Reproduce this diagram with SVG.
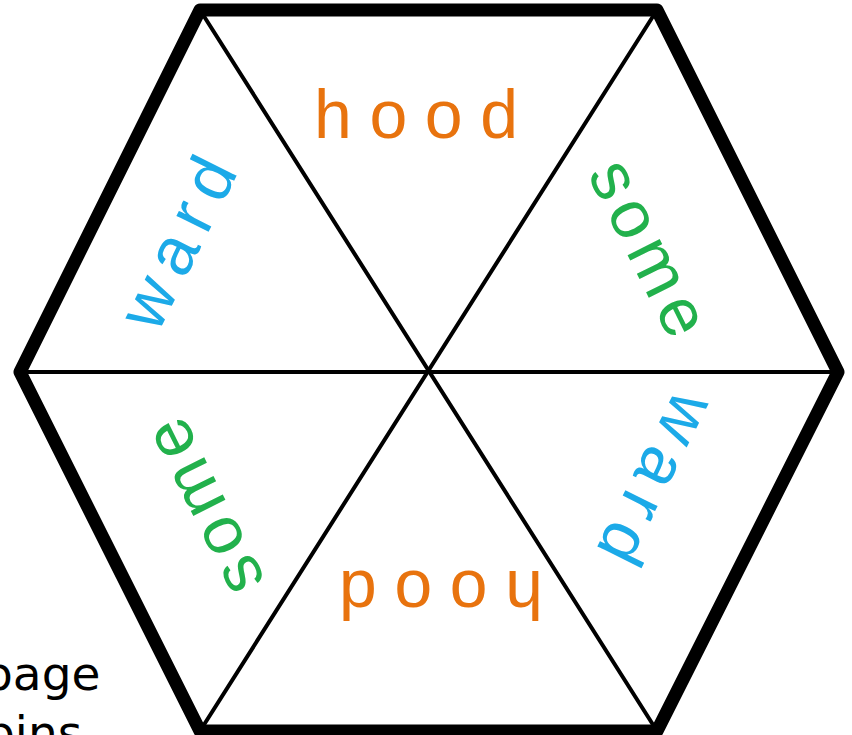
<svg xmlns="http://www.w3.org/2000/svg" width="852" height="735" viewBox="0 0 852 735">
<style>
.thin{stroke:#000;stroke-width:4;fill:none;stroke-linecap:round}
.thick{stroke:#000;stroke-width:13;fill:none;stroke-linejoin:round}
.hw{font-family:"Liberation Sans","DejaVu Sans",sans-serif;font-size:68px;text-anchor:middle}
.or{fill:#E8730E}
.bl{fill:#1CAAE8}
.gr{fill:#22B14C}
.side{font-family:"DejaVu Sans","Liberation Sans",sans-serif;font-size:47px;fill:#000}
</style>
<rect width="852" height="735" fill="#fff"/>
<g id="connectors">
<line class="thin" x1="20" y1="372" x2="838" y2="372"/>
<line class="thin" x1="200" y1="10" x2="657" y2="731"/>
<line class="thin" x1="657" y1="10" x2="200" y2="731"/>
<polygon class="thick" points="200,10 657,10 838,372 657,731 200,731 20,372"/>
</g>
<g id="top">
<text class="hw or" x="416" y="138" textLength="204" lengthAdjust="spacing">hood</text>
</g>
<g id="top-right">
<text class="hw gr" transform="translate(629,258) rotate(63.5)" x="0" y="0" textLength="188" lengthAdjust="spacing">some</text>
</g>
<g id="top-left">
<text class="hw bl" transform="translate(198,253) rotate(-63.5)" x="0" y="0" textLength="182" lengthAdjust="spacing">ward</text>
</g>
<g id="bottom-right">
<text class="hw bl" transform="translate(636,469) rotate(116.5)" x="0" y="0" textLength="182" lengthAdjust="spacing">ward</text>
</g>
<g id="bottom-left">
<text class="hw gr" transform="translate(224,497) rotate(243.5)" x="0" y="0" textLength="188" lengthAdjust="spacing">some</text>
</g>
<g id="bottom">
<text class="hw or" transform="translate(441,571) rotate(180)" x="0" y="0" textLength="204" lengthAdjust="spacing">hood</text>
</g>
<g id="side-text">
<text class="side" x="-17" y="690">page</text>
<text class="side" x="-15" y="749">pins</text>
</g>
</svg>
